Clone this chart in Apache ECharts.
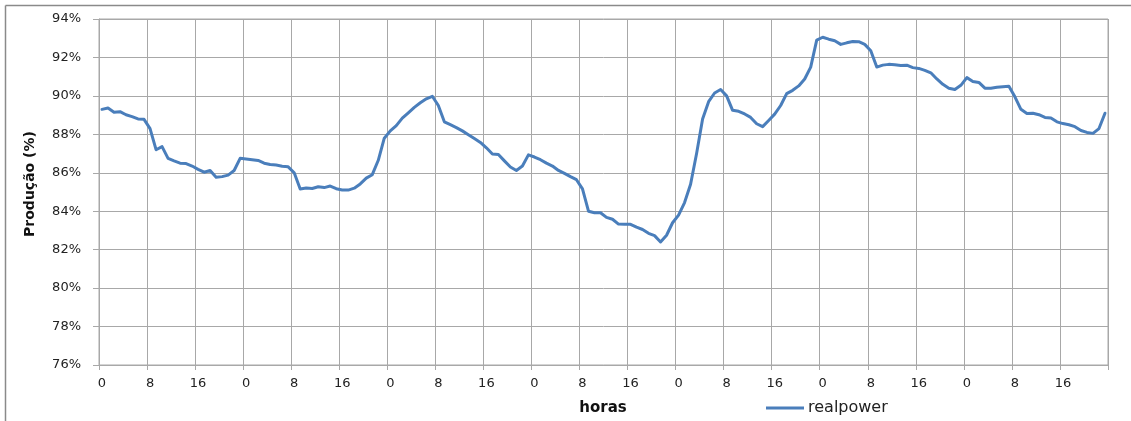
<!DOCTYPE html>
<html>
<head>
<meta charset="utf-8">
<script src="https://cdn.jsdelivr.net/npm/echarts@6/dist/echarts.min.js"></script>
<style>
  html, body { margin: 0; padding: 0; background: #fff; }
  #chart { width: 1131px; height: 421px; }
</style>
</head>
<body>
<div id="chart"></div>
<script>
// Hourly production over 7 days (%)
const hoursPerDay = 24;
const numDays = 7;
const hourLabels = [];
for (let d = 0; d < numDays; d++) {
  for (let h = 0; h < hoursPerDay; h++) hourLabels.push(String(h));
}

const realpower = [
  // day 1
  89.3, 89.37, 89.15, 89.18, 89.02, 88.92, 88.8, 88.78, 88.3, 87.2, 87.36, 86.75,
  86.62, 86.5, 86.48, 86.35, 86.18, 86.03, 86.12, 85.77, 85.8, 85.88, 86.12, 86.75,
  // day 2
  86.72, 86.68, 86.64, 86.5, 86.43, 86.4, 86.34, 86.31, 86.0, 85.16, 85.21, 85.18,
  85.27, 85.23, 85.31, 85.17, 85.1, 85.1, 85.2, 85.42, 85.72, 85.9, 86.65, 87.8,
  // day 3
  88.18, 88.45, 88.84, 89.12, 89.4, 89.64, 89.85, 89.98, 89.5, 88.65, 88.5, 88.35,
  88.18, 87.98, 87.78, 87.58, 87.3, 86.98, 86.95, 86.62, 86.3, 86.12, 86.35, 86.93,
  // day 4
  86.82, 86.68, 86.5, 86.35, 86.12, 85.97, 85.8, 85.64, 85.16, 84.0, 83.92, 83.92,
  83.68, 83.58, 83.33, 83.32, 83.32, 83.17, 83.05, 82.85, 82.73, 82.4, 82.75, 83.4,
  // day 5
  83.8, 84.45, 85.4, 87.0, 88.8, 89.7, 90.15, 90.33, 90.0, 89.25, 89.2, 89.06,
  88.88, 88.55, 88.4, 88.72, 89.05, 89.5, 90.12, 90.29, 90.52, 90.88, 91.5, 92.9,
  // day 6
  93.05, 92.95, 92.87, 92.68, 92.76, 92.83, 92.82, 92.68, 92.35, 91.5, 91.6, 91.64,
  91.62, 91.58, 91.6, 91.47, 91.43, 91.33, 91.2, 90.88, 90.6, 90.4, 90.33, 90.55,
  // day 7
  90.95, 90.75, 90.7, 90.4, 90.4, 90.45, 90.48, 90.5, 89.95, 89.3, 89.08, 89.1,
  89.02, 88.88, 88.85, 88.65, 88.56, 88.5, 88.4, 88.2, 88.1, 88.05, 88.3, 89.1
];

const yMin = 76, yMax = 94, yStep = 2;
const seriesName = 'realpower';
const xTitle = 'horas';
const yTitle = 'Produção (%)';

const gridColor = '#a8a8a8';
const lineColor = '#4a7ebb';
const font = 'DejaVu Sans';

const chart = echarts.init(document.getElementById('chart'), null, { renderer: 'canvas' });
chart.setOption({
  backgroundColor: '#ffffff',
  animation: false,
  grid: {
    left: 99, right: 23, top: 19, bottom: 56,
    containLabel: false,
    outerBoundsMode: 'none',
    show: true, borderColor: gridColor, borderWidth: 1
  },
  legend: {
    data: [seriesName],
    left: 761, top: 395,
    icon: 'rect', itemWidth: 38, itemHeight: 3, itemGap: 10,
    textStyle: { fontFamily: font, fontSize: 16, color: '#222', padding: [0, 0, 0, -1] }
  },
  xAxis: {
    type: 'category',
    data: hourLabels,
    boundaryGap: true,
    axisLine: { show: true, lineStyle: { color: gridColor, width: 1 } },
    axisTick: { show: true, interval: 7, length: 5, lineStyle: { color: gridColor } },
    axisLabel: { interval: 7, margin: 12, fontFamily: font, fontSize: 13, color: '#222' },
    splitLine: { show: true, interval: 7, lineStyle: { color: gridColor, width: 1 } }
  },
  yAxis: {
    type: 'value',
    min: yMin, max: yMax, interval: yStep,
    axisLine: { show: true, lineStyle: { color: gridColor, width: 1 } },
    axisTick: { show: true, length: 6, lineStyle: { color: gridColor } },
    axisLabel: { formatter: '{value}%', margin: 18, fontFamily: font, fontSize: 13, color: '#222' },
    splitLine: { show: true, lineStyle: { color: gridColor, width: 1 } }
  },
  graphic: [
    { type: 'line', shape: { x1: 5.5, y1: 5.5, x2: 1131, y2: 5.5 }, style: { stroke: '#8a8a8a', lineWidth: 1.5 } },
    { type: 'line', shape: { x1: 5.5, y1: 5.5, x2: 5.5, y2: 421 }, style: { stroke: '#8a8a8a', lineWidth: 1.5 } },
    { type: 'text', x: 30, y: 184, rotation: Math.PI / 2,
      style: { text: yTitle, font: 'bold 14px "DejaVu Sans"', fill: '#111', align: 'center', verticalAlign: 'middle' } },
    { type: 'text', x: 603, y: 408,
      style: { text: xTitle, font: 'bold 15px "DejaVu Sans"', fill: '#111', align: 'center', verticalAlign: 'middle' } }
  ],
  series: [{
    name: seriesName,
    type: 'line',
    data: realpower,
    showSymbol: false,
    symbol: 'none',
    smooth: false,
    lineStyle: { color: lineColor, width: 3, join: 'round', cap: 'round' },
    itemStyle: { color: lineColor }
  }]
});
</script>
</body>
</html>
